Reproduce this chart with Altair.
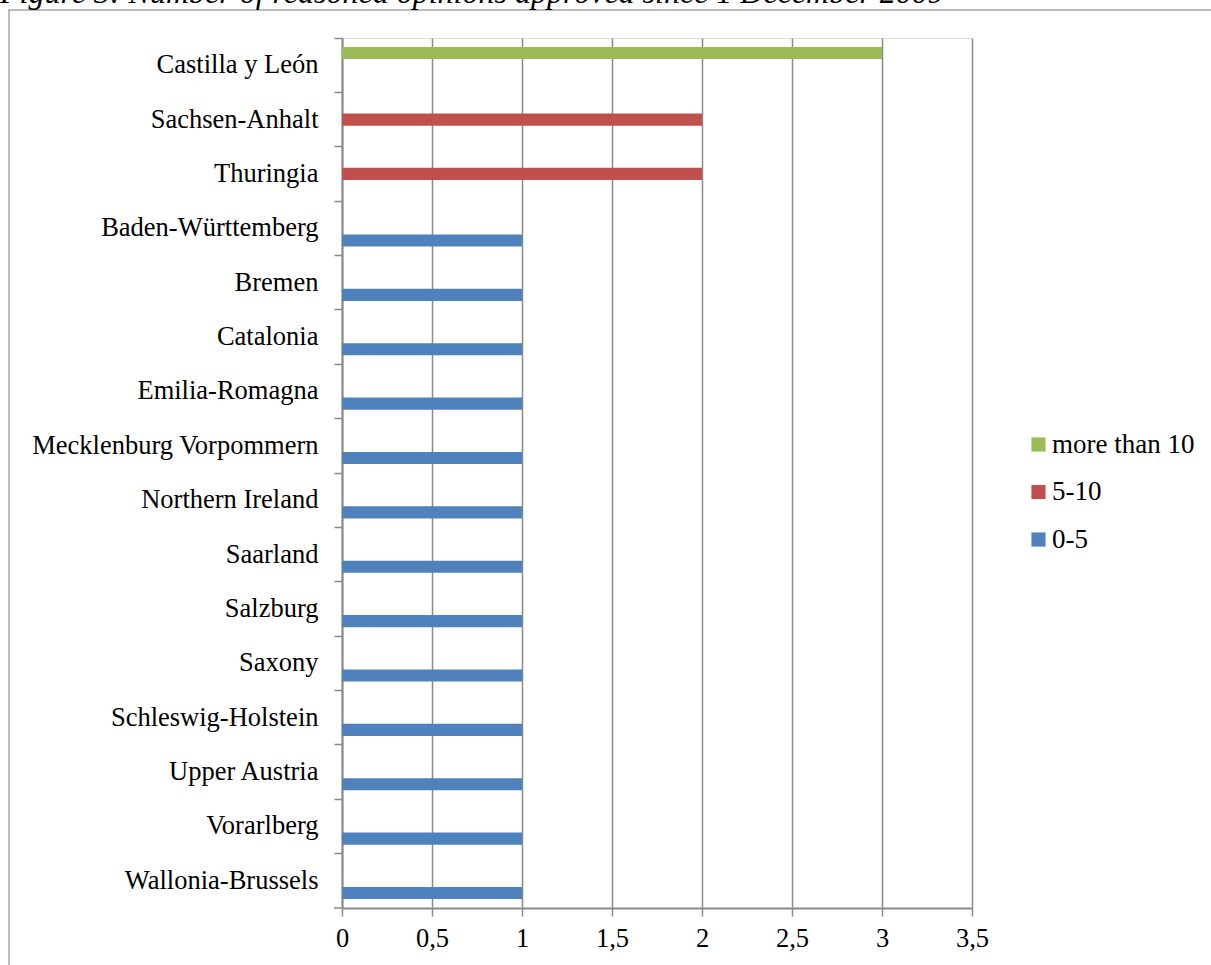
import altair as alt
import pandas as pd

regions = ["Castilla y León", "Sachsen-Anhalt", "Thuringia", "Baden-Württemberg",
           "Bremen", "Catalonia", "Emilia-Romagna", "Mecklenburg Vorpommern",
           "Northern Ireland", "Saarland", "Salzburg", "Saxony",
           "Schleswig-Holstein", "Upper Austria", "Vorarlberg", "Wallonia-Brussels"]
values = [3, 2, 2, 1, 1, 1, 1, 1, 1, 1, 1, 1, 1, 1, 1, 1]
groups = ["more than 10", "5-10", "5-10"] + ["0-5"] * 13
series_order = ["more than 10", "5-10", "0-5"]
series_colors = ["#9BBB59", "#C0504D", "#4F81BD"]
x_ticks = [0, 0.5, 1, 1.5, 2, 2.5, 3, 3.5]
title_text = ["Figure 3: Number of reasoned opinions approved since 1 December 2009"]

df = pd.DataFrame({"Region": regions, "Value": values, "Series": groups})

FONT = "Liberation Serif"
GRAY = "#8a8a8a"
W, H = 630, 870
FS = 26.5

bars = alt.Chart(df).mark_bar().encode(
    y=alt.Y("Region:N", sort=regions,
            scale=alt.Scale(paddingInner=0, paddingOuter=0),
            axis=alt.Axis(title=None, bandPosition=0, ticks=True, tickSize=8,
                          tickColor=GRAY, tickWidth=1.5, domainColor=GRAY,
                          domainWidth=2, labelFont=FONT, labelFontSize=FS,
                          labelColor="black", labelPadding=16, labelLimit=0,
                          grid=False)),
    yOffset=alt.YOffset("Series:N",
                        scale=alt.Scale(domain=series_order, paddingInner=0,
                                        paddingOuter=0.73)),
    x=alt.X("Value:Q", scale=alt.Scale(domain=[0, 3.5], nice=False),
            axis=alt.Axis(title=None, values=x_ticks,
                          labelExpr="replace(toString(datum.value), '.', ',')",
                          grid=True, gridColor=GRAY, gridWidth=1.5,
                          tickSize=8, tickColor=GRAY, tickWidth=1.5,
                          domainColor=GRAY, domainWidth=2, labelFont=FONT,
                          labelFontSize=FS, labelColor="black", labelPadding=9,
                          labelFlush=False)),
    color=alt.Color("Series:N",
                    scale=alt.Scale(domain=series_order, range=series_colors),
                    legend=alt.Legend(title=None, orient="none", legendX=683,
                                      legendY=393, symbolType="square",
                                      symbolSize=200, symbolStrokeWidth=0,
                                      labelFont=FONT, labelFontSize=27,
                                      labelColor="black", rowPadding=19.5,
                                      labelOffset=0, padding=0)),
)

one = pd.DataFrame({"a": [0]})
corner_tick = alt.Chart(one).mark_rule(color=GRAY, strokeWidth=1.5).encode(
    x=alt.value(-8), x2=alt.value(0), y=alt.value(H))

frame = alt.Chart(one).mark_rect(fill=None, stroke="#a6a6a6", strokeWidth=1.5).encode(
    x=alt.value(-333), x2=alt.value(W + 300), y=alt.value(-28), y2=alt.value(H + 100))

title = alt.Chart(pd.DataFrame({"t": title_text})).mark_text(
    font=FONT, fontSize=32, fontStyle="italic", align="left",
    baseline="alphabetic", color="black").encode(
    x=alt.value(-342), y=alt.value(-35), text="t:N")

chart = alt.layer(frame, bars, corner_tick, title).properties(
    width=W, height=H,
    autosize=alt.AutoSizeParams(type="none"),
    padding={"left": 342, "top": 38, "right": 239, "bottom": 57},
).configure_view(stroke=None).configure(background="white")

chart.save("out.html", embed_options={"renderer": "svg", "actions": False})
